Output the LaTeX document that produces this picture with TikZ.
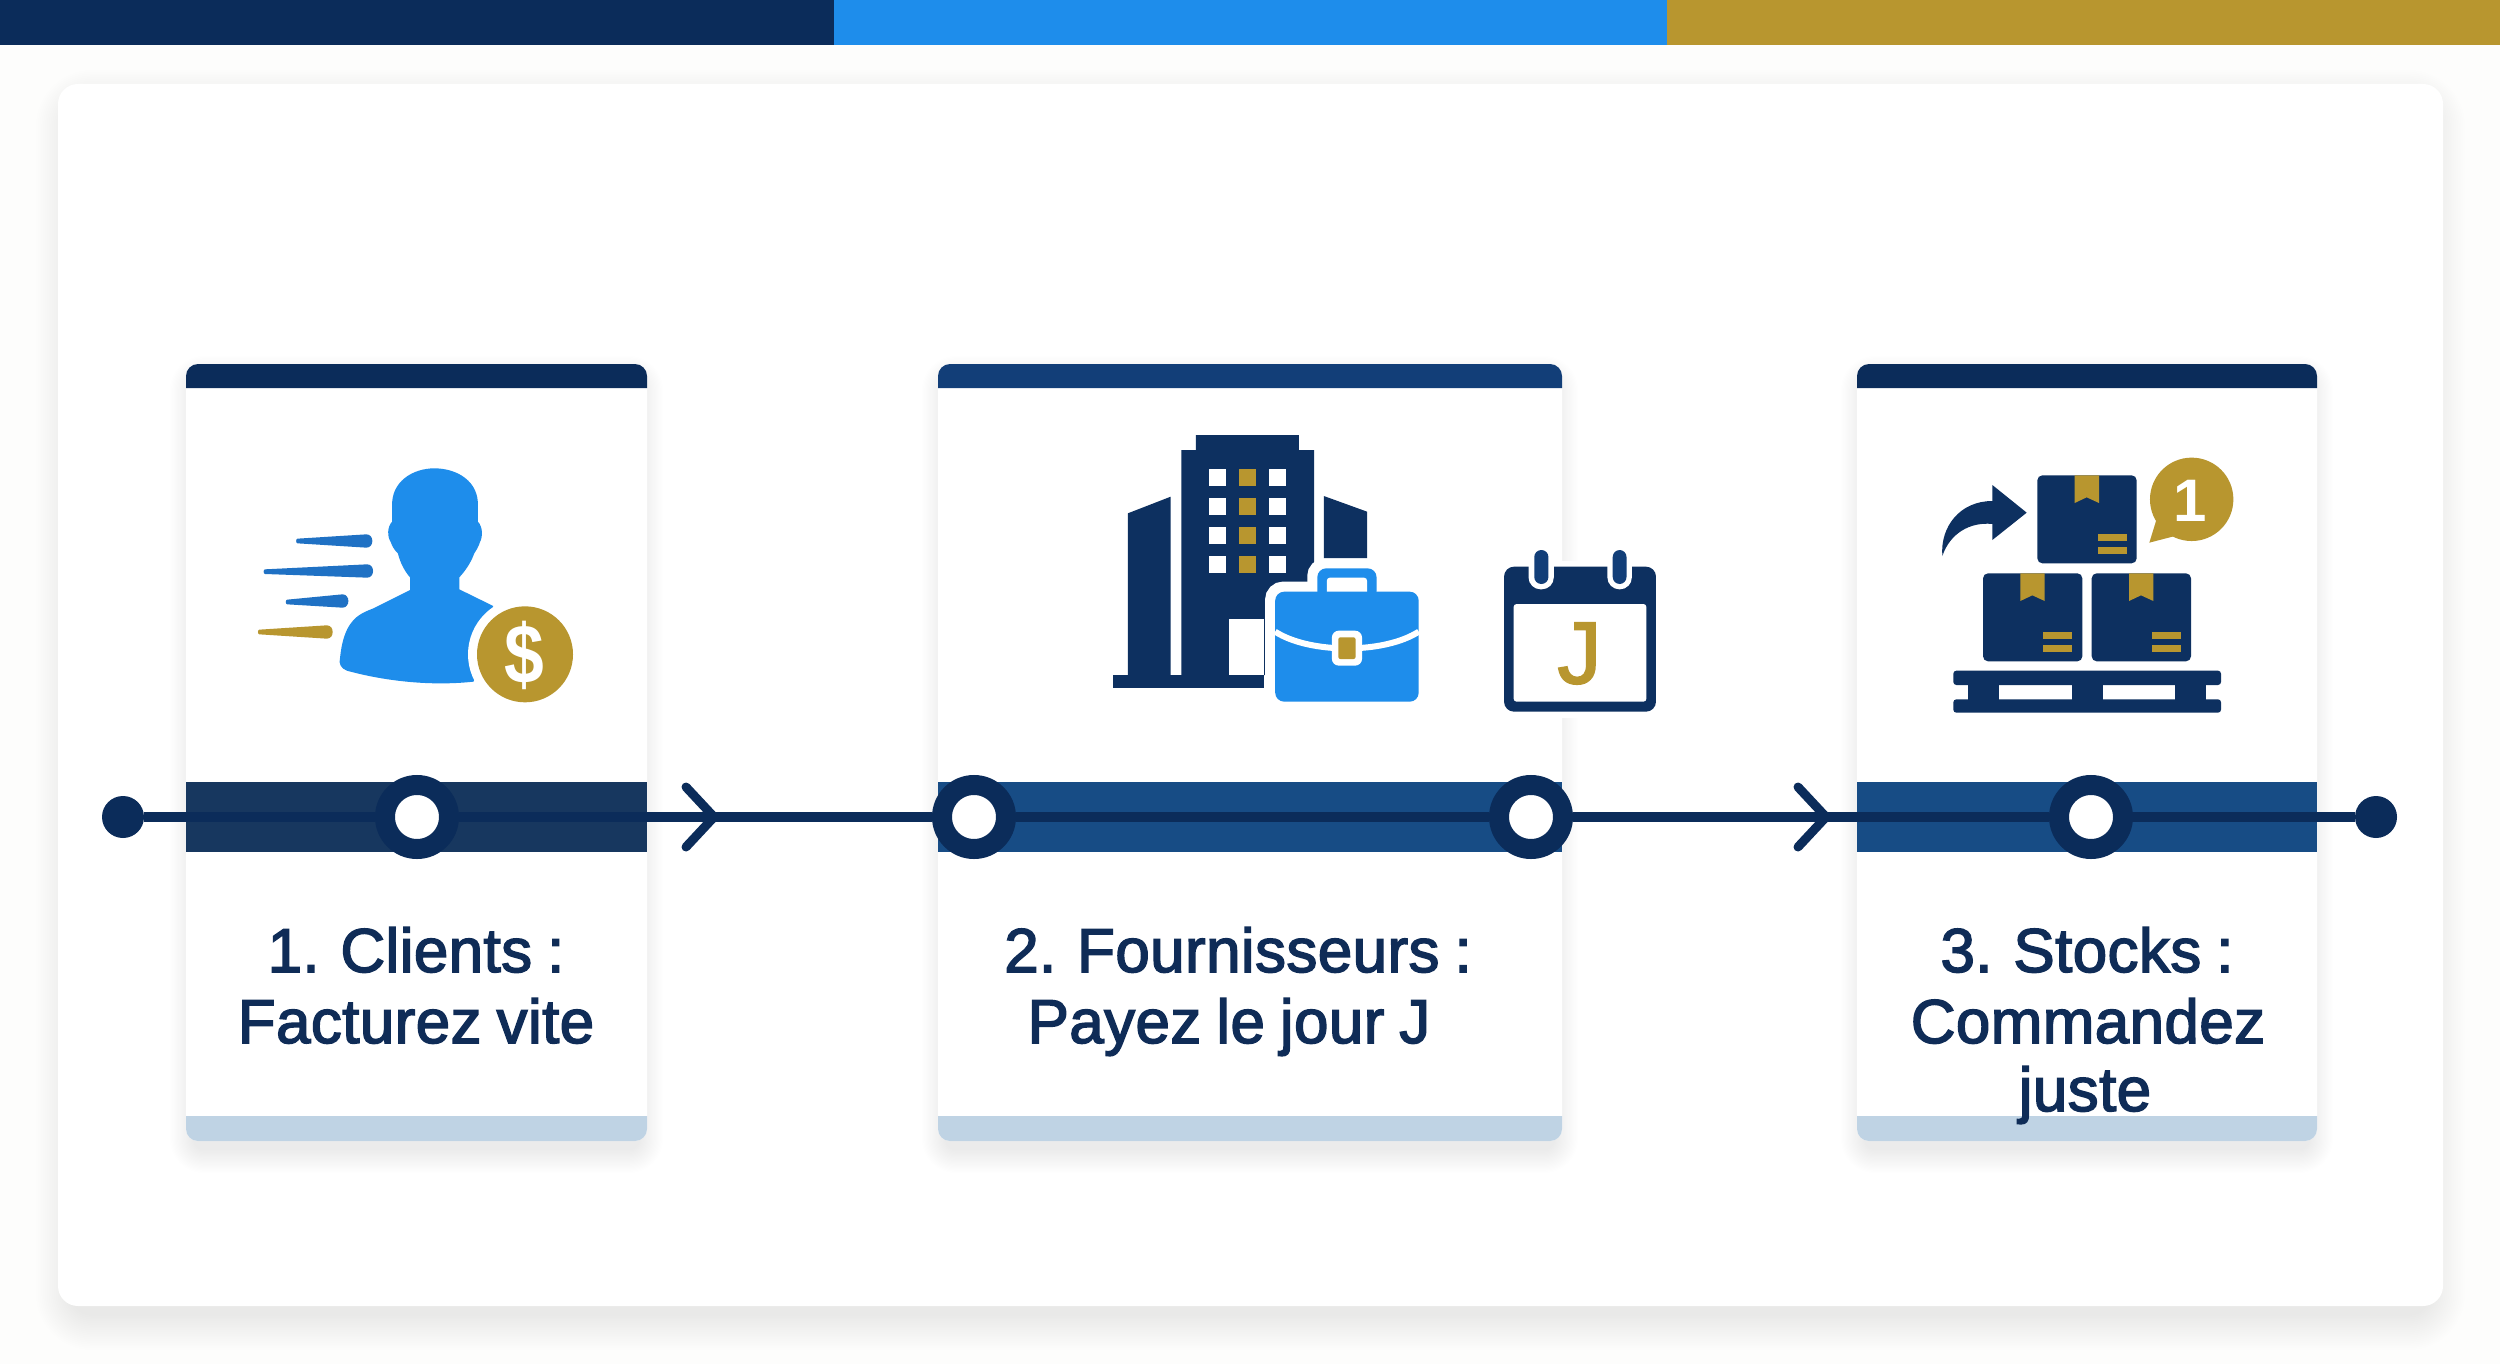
\documentclass[tikz,border=0pt]{standalone}
\usepackage{fontspec}
\setmainfont{Liberation Sans}
\newfontfamily\labelfont[FakeBold=2.4,WordSpace=0.85,LetterSpace=0.6]{Liberation Sans}
\newfontfamily\jfont[FakeBold=2]{Liberation Sans}
\newfontfamily\glyphfont{Liberation Sans Bold}
\definecolor{navy}{HTML}{0B2C5A}
\definecolor{navyb}{HTML}{0D3060}
\definecolor{midnavy}{HTML}{123E78}
\definecolor{bandA}{HTML}{17375F}
\definecolor{bandB}{HTML}{174C85}
\definecolor{skyb}{HTML}{1E8DEB}
\definecolor{streakb}{HTML}{1F71C4}
\definecolor{goldc}{HTML}{B8962F}
\definecolor{stripc}{HTML}{BFD3E4}
\definecolor{inkc}{HTML}{0F2C57}
\definecolor{pagec}{HTML}{FDFDFC}
\tikzset{
  ringnode/.style={circle,draw=navy,line width=20pt,fill=white,minimum size=64pt,inner sep=0pt},
  dotnode/.style={circle,fill=navy,minimum size=42pt,inner sep=0pt},
  timeline/.style={draw=navy,line width=10pt},
  chevron/.style={draw=navy,line width=9pt,line cap=round,line join=miter},
  cardtext/.style={font=\labelfont\fontsize{62}{70}\selectfont,text=inkc,anchor=base,inner sep=0pt},
  nv/.style={fill=navyb},
  gd/.style={fill=goldc},
  wt/.style={fill=white}
}
\newcommand{\softshadow}[7]{%
  \foreach \k in {1,...,20}{%
    \pgfmathsetmacro\ee{#6*(21-\k)/20}%
    \pgfmathsetmacro\rr{#5+\ee}%
    \fill[black,opacity=0.005,rounded corners=\rr pt] ({#1-\ee},{#2+#7-\ee}) rectangle ({#3+\ee},{#4+#7+\ee});
  }}
\newcommand{\cardbox}[4]{%
  \softshadow{#1+8}{372}{#2-8}{1141}{10}{24}{8}
  \fill[white,rounded corners=12pt] (#1,364) rectangle (#2,1141);
  \fill[#3] (#1,388) {[rounded corners=12pt] -- (#1,364) -- (#2,364)} -- (#2,388) -- cycle;
  \fill[#4] (#1,782) rectangle (#2,852);
  \fill[stripc] (#1,1116) {[rounded corners=12pt] -- (#1,1141) -- (#2,1141)} -- (#2,1116) -- cycle;
}
% streak: tip x, tip y, round end x, end y, half height
\newcommand{\streak}[6]{%
  \fill[#6] (#1,{#2-7}) -- ({#3-16},{#4-#5}) .. controls ({#3+6},{#4-#5}) and ({#3+6},{#4+#5}) .. ({#3-16},{#4+#5}) -- (#1,{#2+7}) .. controls ({#1-5},{#2+6}) and ({#1-5},{#2-6}) .. cycle;
}
% parcel: x0 y0 (box top-left in 3x zoom units)
\newcommand{\parcel}[2]{%
  \fill[nv,rounded corners=5pt] (#1,#2) rectangle ({#1+298},{#2+264});
  \fill[gd] ({#1+112},#2) -- ({#1+185},#2) -- ({#1+185},{#2+83}) -- ({#1+148},{#2+66}) -- ({#1+112},{#2+83}) -- cycle;
  \fill[gd] ({#1+181},{#2+177}) rectangle ({#1+268},{#2+198});
  \fill[gd] ({#1+181},{#2+215}) rectangle ({#1+268},{#2+235});
}
\begin{document}
\begin{tikzpicture}[x=1pt,y=-1pt]
\useasboundingbox (0,0) rectangle (2500,1364);
\fill[pagec] (0,0) rectangle (2500,1364);
% panel
\softshadow{72}{98}{2429}{1306}{20}{36}{8}
\fill[white,rounded corners=20pt] (58,84) rectangle (2443,1306);
% top colour bars
\fill[navy] (0,0) rectangle (833.5,45);
\fill[skyb] (833.5,0) rectangle (1667,45);
\fill[goldc] (1667,0) rectangle (2500,45);
% cards
\cardbox{186}{647}{navy}{bandA}
\cardbox{938}{1562}{midnavy}{bandB}
\cardbox{1857}{2317}{navy}{bandB}

% timeline nodes and connectors
\node[dotnode] (start) at (123,817) {};
\node[ringnode] (r1) at (417,817) {};
\node[ringnode] (r2) at (974,817) {};
\node[ringnode] (r3) at (1531,817) {};
\node[ringnode] (r4) at (2091,817) {};
\node[dotnode] (finish) at (2376,817) {};
\coordinate (a1tip) at (714,817);
\coordinate (a1up) at (686,787);
\coordinate (a1dn) at (686,847);
\coordinate (a2tip) at (1826,817);
\coordinate (a2up) at (1798,787);
\coordinate (a2dn) at (1798,847);
\draw[timeline] (start) -- (r1);
\draw[timeline] (r1) -- (r2);
\draw[timeline] (r2) -- (r3);
\draw[timeline] (r3) -- (r4);
\draw[timeline] (r4) -- (finish);
\draw[chevron] (a1up) -- (a1tip) -- (a1dn);
\draw[chevron] (a2up) -- (a2tip) -- (a2dn);

% labels
\node[cardtext] (t1a) at (416,972) {1. Clients :};
\node[cardtext] (t1b) at (416,1043) {Facturez vite};
\node[cardtext] (t2a) at (1238,972) {2. Fournisseurs :};
\node[cardtext] (t2b) at (1229,1043) {Payez le jour J};
\node[cardtext] (t3a) at (2087,972) {3. Stocks :};
\node[cardtext] (t3b) at (2088,1043) {Commandez};
\node[cardtext] (t3c) at (2085,1111) {juste};

% ---- icon 1: person with coin
\begin{scope}[shift={(170,340)},x=0.35714pt,y=-0.33333pt]
  \fill[skyb] (622,500) .. controls (618,425) and (680,385) .. (740,385)
    .. controls (805,385) and (866,425) .. (862,500)
    -- (862,545) .. controls (876,560) and (876,590) .. (868,606)
    .. controls (864,620) and (858,630) .. (852,640)
    .. controls (842,670) and (825,695) .. (810,712)
    -- (810,748) -- (905,798) -- (850,1025)
    .. controls (720,1040) and (590,1020) .. (495,992)
    .. controls (478,985) and (472,970) .. (476,955)
    .. controls (480,910) and (490,870) .. (510,845)
    .. controls (525,825) and (545,815) .. (570,805)
    -- (672,750) -- (672,712)
    .. controls (658,695) and (645,670) .. (638,640)
    .. controls (630,632) and (622,620) .. (618,606)
    .. controls (608,590) and (608,560) .. (622,545) -- cycle;
  \streak{357}{603}{566}{603}{20}{streakb}
  \streak{266}{695}{568}{693}{20}{streakb}
  \streak{328}{786}{499}{783}{20}{streakb}
  \streak{250}{876}{455}{876}{20}{goldc}
  \fill[white] (994,943) circle [radius=57pt];
  \fill[goldc] (994,943) circle [radius=48pt];
  \node[font=\glyphfont\fontsize{84}{84}\selectfont,text=white,inner sep=0pt,xscale=0.85] (dollar) at (992,945) {\$};
\end{scope}

% ---- icon 2: building, briefcase, calendar
\begin{scope}[shift={(1080,400)},x=0.38270pt,y=-0.33333pt]
  \fill[nv] (265,825) -- (265,150) -- (303,150) -- (303,105) -- (572,105) -- (572,150) -- (612,150) -- (612,825) -- cycle;
  \fill[nv] (125,825) -- (125,340) -- (237,290) -- (237,825) -- cycle;
  \fill[nv] (637,475) -- (637,288) -- (750,335) -- (750,475) -- cycle;
  \fill[nv] (85,825) rectangle (482,865);
  \fill[white] (390,658) rectangle (482,825);
  \foreach \yy in {208,295,380,467}{
    \fill[wt] (337,\yy) rectangle (381,{\yy+51});
    \fill[gd] (415,\yy) rectangle (460,{\yy+51});
    \fill[wt] (493,\yy) rectangle (537,{\yy+51});
  }
  % briefcase halo
  \draw[white,fill=white,line width=20pt,rounded corners=8pt] (510,575) rectangle (885,905);
  \draw[white,fill=white,line width=20pt,rounded corners=8pt] (620,575) -- (620,505) -- (775,505) -- (775,575);
  % briefcase
  \fill[skyb,rounded corners=9pt] (620,600) -- (620,505) -- (775,505) -- (775,600) -- cycle;
  \fill[white,rounded corners=3pt] (645,590) -- (645,533) -- (750,533) -- (750,590) -- cycle;
  \fill[skyb,rounded corners=9pt] (510,575) rectangle (885,905);
  \draw[white,line width=6pt] (510,695) .. controls (600,762) and (795,762) .. (885,695);
  \fill[white,rounded corners=7pt] (658,692) rectangle (737,797);
  \fill[gd,rounded corners=2pt] (675,712) rectangle (720,777);
  % calendar
  \fill[white] (1090,483) rectangle (1525,955);
  \fill[nv,rounded corners=10pt] (1108,500) rectangle (1505,935);
  \fill[white,rounded corners=3pt] (1133,612) rectangle (1480,905);
  \fill[white,rounded corners=12pt] (1172,430) rectangle (1238,568);
  \fill[white,rounded corners=12pt] (1378,430) rectangle (1442,568);
  \fill[midnavy,rounded corners=7pt] (1187,450) rectangle (1224,552);
  \fill[midnavy,rounded corners=7pt] (1392,450) rectangle (1428,552);
  \node[font=\jfont\fontsize{88}{88}\selectfont,text=goldc,inner sep=0pt,anchor=base] (jday) at (1305,850) {J};
\end{scope}

% ---- icon 3: parcels on a pallet
\begin{scope}[shift={(1900,430)},x=0.33333pt,y=-0.33333pt]
  \fill[nv] (127,378) .. controls (120,290) and (180,213) .. (277,213) -- (277,165) -- (380,248) -- (277,330) -- (277,282) .. controls (210,275) and (150,310) .. cycle;
  \parcel{412}{136}
  \parcel{249}{430}
  \parcel{575}{430}
  \fill[nv,rounded corners=3pt] (160,722) rectangle (963,765);
  \fill[nv,rounded corners=3pt] (160,808) rectangle (963,848);
  \fill[nv] (205,760) rectangle (297,812);
  \fill[nv] (515,760) rectangle (608,812);
  \fill[nv] (825,760) rectangle (918,812);
  \fill[goldc] (875,208) circle [radius=41.7pt];
  \fill[goldc] (772,260) -- (748,338) -- (825,318) -- cycle;
  \node[font=\glyphfont\fontsize{60}{60}\selectfont,text=white,inner sep=0pt,anchor=base] (one) at (870,275) {1};
\end{scope}
\end{tikzpicture}
\end{document}
